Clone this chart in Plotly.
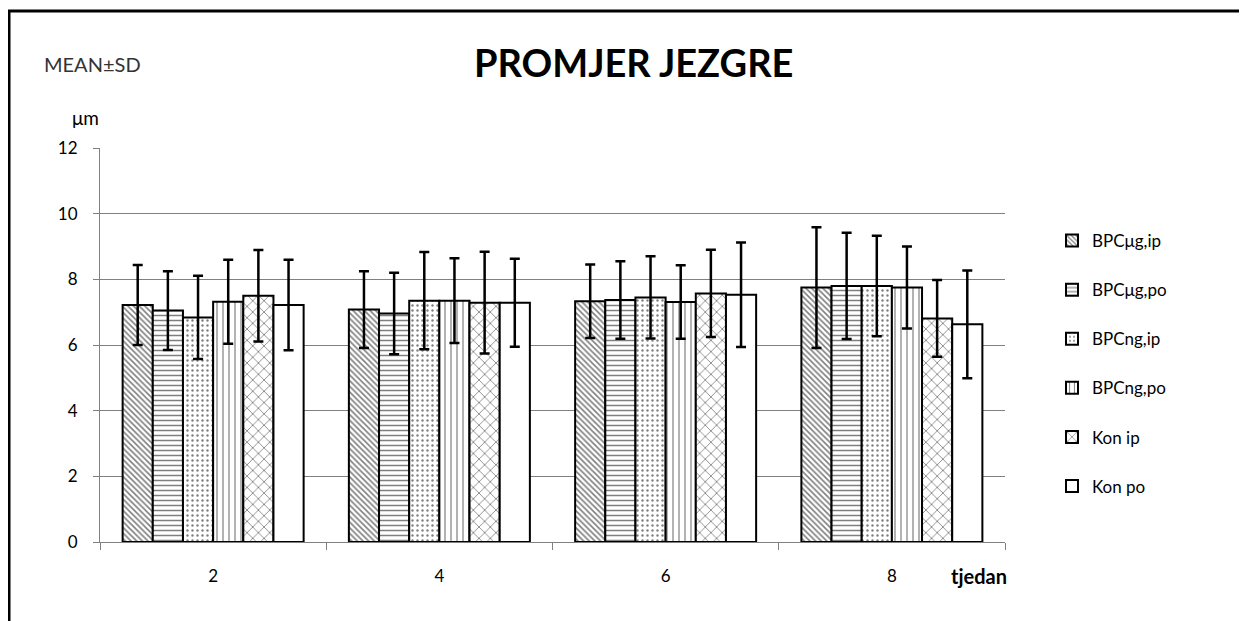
import plotly.graph_objects as go

weeks = ["2", "4", "6", "8"]
series_names = ["BPCμg,ip", "BPCμg,po", "BPCng,ip", "BPCng,po", "Kon ip", "Kon po"]

mean_bpc_ug_ip = [7.22, 7.08, 7.33, 7.75]
mean_bpc_ug_po = [7.05, 6.96, 7.37, 7.80]
mean_bpc_ng_ip = [6.84, 7.35, 7.45, 7.80]
mean_bpc_ng_po = [7.32, 7.35, 7.31, 7.75]
mean_kon_ip = [7.50, 7.29, 7.57, 6.81]
mean_kon_po = [7.22, 7.29, 7.53, 6.63]

sd_bpc_ug_ip = [1.22, 1.17, 1.12, 1.84]
sd_bpc_ug_po = [1.20, 1.24, 1.18, 1.62]
sd_bpc_ng_ip = [1.27, 1.48, 1.25, 1.53]
sd_bpc_ng_po = [1.28, 1.29, 1.12, 1.25]
sd_kon_ip = [1.39, 1.55, 1.33, 1.17]
sd_kon_po = [1.38, 1.34, 1.59, 1.64]

y_ticks = [0, 2, 4, 6, 8, 10, 12]

means = [mean_bpc_ug_ip, mean_bpc_ug_po, mean_bpc_ng_ip, mean_bpc_ng_po, mean_kon_ip, mean_kon_po]
sds = [sd_bpc_ug_ip, sd_bpc_ug_po, sd_bpc_ng_ip, sd_bpc_ng_po, sd_kon_ip, sd_kon_po]
patterns = ["\\", "-", ".", "|", "x", ""]
pat_size = [4, 5, 5, 6, 8, 8]
pat_sol = [0.4, 0.3, 0.18, 0.2, 0.2, 0.3]

# page offset (body margin) in the rendered window
OFF = 8
W, H = 1247, 621
# target plot area in window pixels
PL, PR, PT, PB = 100, 1005, 148, 542
L = PL - OFF
T = PT - OFF
R = W - (PR - OFF)
B = H - (PB - OFF)
PW, PH = PR - PL, PB - PT


def px(x):
    return (x - PL) / PW


def py(y):
    return (PB - y) / PH


FONT = "Lato, 'Open Sans', sans-serif"

fig = go.Figure()
for i, name in enumerate(series_names):
    fig.add_trace(go.Bar(
        name=name,
        x=weeks,
        y=means[i],
        legendgroup=name,
        marker=dict(
            color="white",
            line=dict(color="black", width=2),
            pattern=dict(shape=patterns[i], fgcolor="black", bgcolor="white",
                         size=pat_size[i], solidity=pat_sol[i]),
        ),
        error_y=dict(type="data", array=sds[i], visible=True,
                     color="black", thickness=2.5, width=5),
    ))

fig.update_layout(
    width=W, height=H,
    margin=dict(l=L, r=R, t=T, b=B),
    paper_bgcolor="white",
    plot_bgcolor="white",
    barmode="group",
    bargap=0.2,
    bargroupgap=0,
    font=dict(family=FONT, size=17, color="black"),
    showlegend=True,
    legend=dict(
        x=px(1052), y=py(223), xanchor="left", yanchor="top",
        font=dict(family=FONT, size=17, color="black"),
        tracegroupgap=24,
        itemwidth=30,
        bgcolor="rgba(0,0,0,0)",
    ),
    xaxis=dict(
        type="category",
        showline=True, linecolor="#808080", linewidth=1,
        ticks="outside", tickson="boundaries", ticklen=7, tickcolor="#808080",
        showgrid=False,
        tickfont=dict(family=FONT, size=17),
        ticklabelstandoff=19,
    ),
    yaxis=dict(
        range=[0, 12],
        tickvals=y_ticks,
        showline=True, linecolor="#808080", linewidth=1,
        ticks="outside", ticklen=6, tickcolor="#808080",
        showgrid=True, gridcolor="#808080", gridwidth=1,
        zeroline=False,
        tickfont=dict(family=FONT, size=17),
        ticklabelstandoff=12,
    ),
    annotations=[
        dict(text="<b>PROMJER JEZGRE</b>", x=px(633), y=py(62), xref="paper", yref="paper",
             showarrow=False, xanchor="center", yanchor="middle",
             font=dict(family=FONT, size=38, color="black")),
        dict(text="MEAN±SD", x=px(42), y=py(64), xref="paper", yref="paper",
             showarrow=False, xanchor="left", yanchor="middle",
             font=dict(family=FONT, size=20, color="#333333")),
        dict(text="μm", x=px(70), y=py(117), xref="paper", yref="paper",
             showarrow=False, xanchor="left", yanchor="middle",
             font=dict(family=FONT, size=19, color="black")),
        dict(text="<b>tjedan</b>", x=px(949), y=py(576), xref="paper", yref="paper",
             showarrow=False, xanchor="left", yanchor="middle",
             font=dict(family=FONT, size=20, color="black")),
    ],
    shapes=[
        dict(type="rect", xref="paper", yref="paper",
             x0=px(9), x1=px(1270), y0=py(11), y1=py(650),
             line=dict(color="black", width=3), fillcolor="rgba(0,0,0,0)", layer="below"),
    ],
)

fig.write_html("out.html")
